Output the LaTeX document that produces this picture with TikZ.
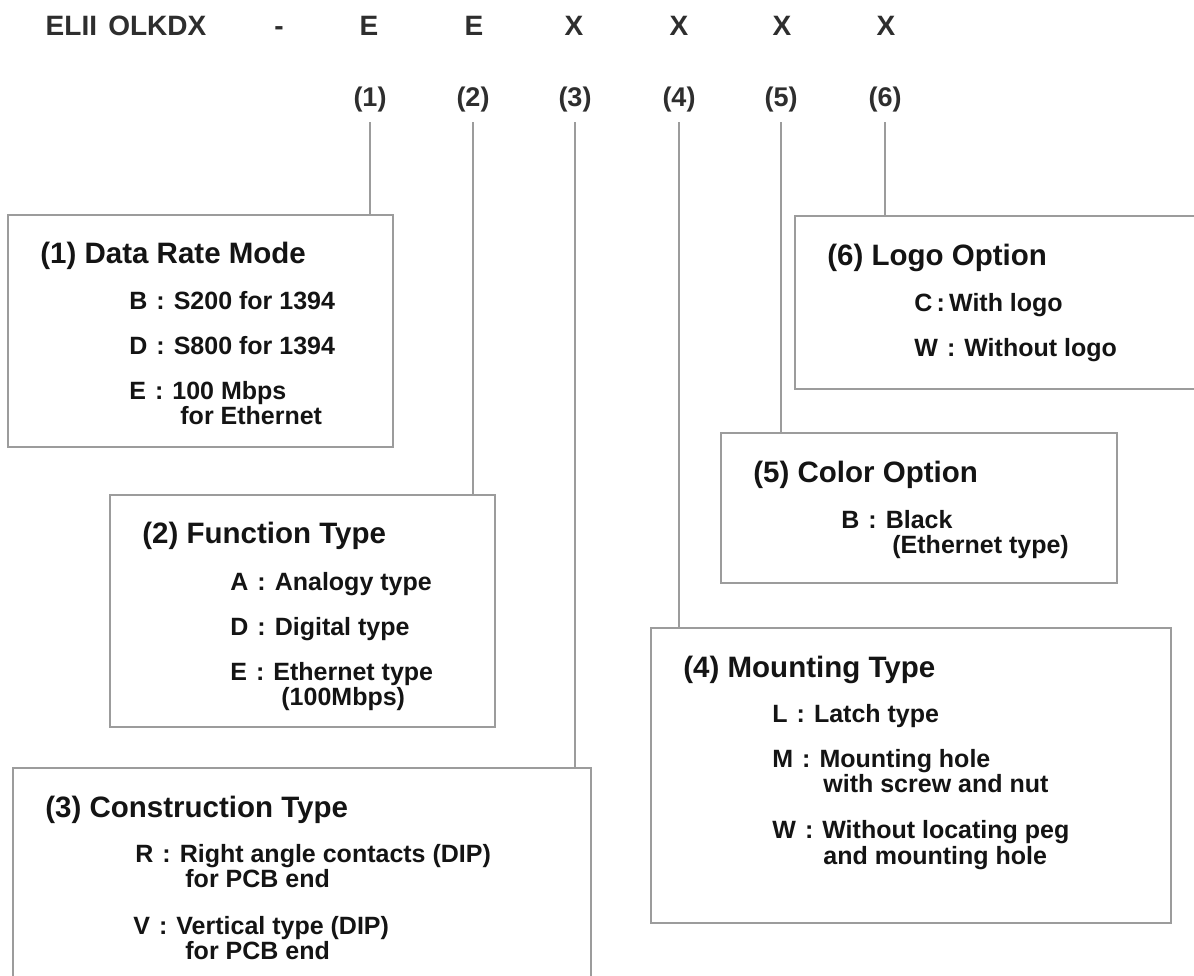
\documentclass[tikz,border=0pt]{standalone}
\usepackage{fontspec}
\setmainfont{Liberation Sans}
\usetikzlibrary{fit}
\definecolor{rulegray}{HTML}{9C9C9C}
\definecolor{inkgray}{HTML}{2E2E2E}
\newcommand{\kcol}{\hspace{0.36em}:\hspace{0.36em}}
\tikzset{
		code/.style={anchor=base, inner sep=0pt, text=inkgray, font=\fontsize{14}{16}\selectfont\bfseries},
		tag/.style={anchor=base, inner sep=5pt, text=inkgray, font=\fontsize{13.5}{16}\selectfont\bfseries},
		box/.style={draw=rulegray, line width=1pt, inner sep=0pt},
		lead/.style={draw=rulegray, line width=1pt},
		heading/.style={anchor=base west, inner sep=0pt, text=black!92, font=\fontsize{14.75}{17}\selectfont\bfseries},
		option/.style={anchor=base west, inner sep=0pt, text=black!92, font=\fontsize{12.5}{15}\selectfont\bfseries}
	}

\begin{document}
\begin{tikzpicture}[x=0.5pt,y=-0.5pt]
				\path[use as bounding box, fill=white] (0,0) rectangle (1194,975);

				% part number
				\node[code] (pn)   at (126,35) {ELII\hspace{0.4em}OLKDX};
				\node[code] (dash) at (279,35) {-};
				\node[code] (c1)   at (369,35) {E};
				\node[code] (c2)   at (474,35) {E};
				\node[code] (c3)   at (574,35) {X};
				\node[code] (c4)   at (679,35) {X};
				\node[code] (c5)   at (782,35) {X};
				\node[code] (c6)   at (886,35) {X};

				\node[tag] (l1) at (370,106) {(1)};
				\node[tag] (l2) at (473,106) {(2)};
				\node[tag] (l3) at (575,106) {(3)};
				\node[tag] (l4) at (679,106) {(4)};
				\node[tag] (l5) at (781,106) {(5)};
				\node[tag] (l6) at (885,106) {(6)};

				% boxes
				\node[box, fit={(8,215) (393,447)}]    (b1) {};
				\node[box, fit={(110,495) (495,727)}]  (b2) {};
				\node[box, fit={(13,768) (591,1010)}]  (b3) {};
				\node[box, fit={(651,628) (1171,923)}] (b4) {};
				\node[box, fit={(721,433) (1117,583)}] (b5) {};
				\node[box, fit={(795,216) (1260,389)}] (b6) {};

				\draw[lead] (l1.south) -- (l1.south |- b1.north);
				\draw[lead] (l2.south) -- (l2.south |- b2.north);
				\draw[lead] (l3.south) -- (l3.south |- b3.north);
				\draw[lead] (l4.south) -- (l4.south |- b4.north);
				\draw[lead] (l5.south) -- (l5.south |- b5.north);
				\draw[lead] (l6.south) -- (l6.south |- b6.north);

				% (1)
				\node[heading] (h1)   at (40,263)  {(1) Data Rate Mode};
				\node[option]  (o1b)  at (129,309) {B\kcol S200 for 1394};
				\node[option]  (o1d)  at (129,354) {D\kcol S800 for 1394};
				\node[option]  (o1e)  at (129,399) {E\kcol 100 Mbps};
				\node[option]  (o1e2) at (180,424) {for Ethernet};

				% (2)
				\node[heading] (h2)   at (142,543) {(2) Function Type};
				\node[option]  (o2a)  at (230,590) {A\kcol Analogy type};
				\node[option]  (o2d)  at (230,635) {D\kcol Digital type};
				\node[option]  (o2e)  at (230,680) {E\kcol Ethernet type};
				\node[option]  (o2e2) at (281,705) {(100Mbps)};

				% (3)
				\node[heading] (h3)   at (45,817)  {(3) Construction Type};
				\node[option]  (o3r)  at (135,862) {R\kcol Right angle contacts (DIP)};
				\node[option]  (o3r2) at (185,887) {for PCB end};
				\node[option]  (o3v)  at (133,934) {V\kcol Vertical type (DIP)};
				\node[option]  (o3v2) at (185,959) {for PCB end};

				% (4)
				\node[heading] (h4)   at (683,677) {(4) Mounting Type};
				\node[option]  (o4l)  at (772,722) {L\kcol Latch type};
				\node[option]  (o4m)  at (772,767) {M\kcol Mounting hole};
				\node[option]  (o4m2) at (823,792) {with screw and nut};
				\node[option]  (o4w)  at (772,838) {W\kcol Without locating peg};
				\node[option]  (o4w2) at (823,864) {and mounting hole};

				% (5)
				\node[heading] (h5)   at (753,482) {(5) Color Option};
				\node[option]  (o5b)  at (841,528) {B\kcol Black};
				\node[option]  (o5b2) at (892,553) {(Ethernet type)};

				% (6)
				\node[heading] (h6)   at (827,265) {(6) Logo Option};
				\node[option]  (o6c)  at (914,311) {C\,:\,With logo};
				\node[option]  (o6w)  at (914,356) {W\kcol Without logo};
			\end{tikzpicture}
\end{document}
